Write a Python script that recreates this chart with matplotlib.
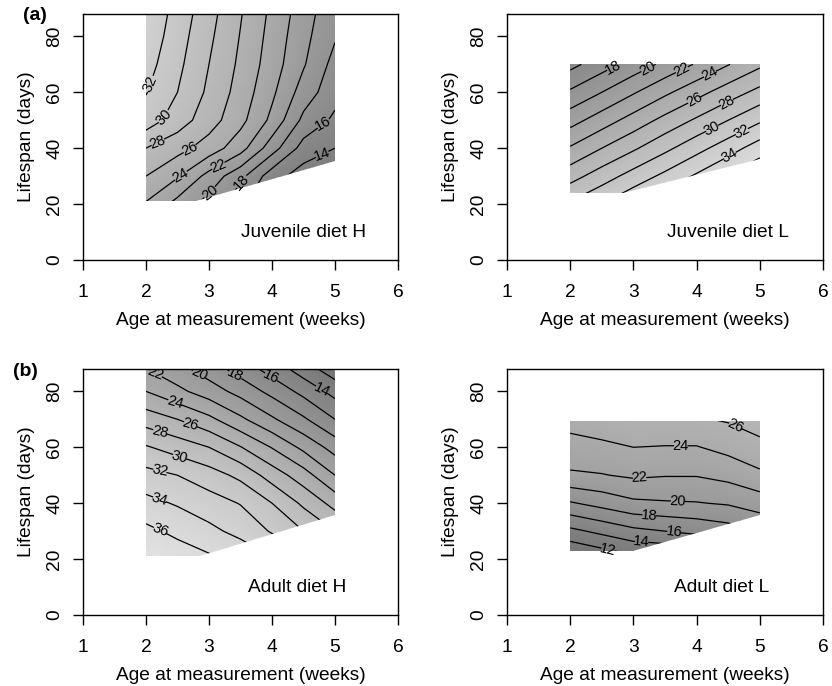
import numpy as np
import matplotlib
matplotlib.use("Agg")
import matplotlib.pyplot as plt
from matplotlib.patches import Polygon
from matplotlib.colors import LinearSegmentedColormap, Normalize

plt.rcParams['font.family'] = ['Liberation Sans', 'DejaVu Sans']

# grid: age (weeks) x lifespan (days)
ages = [2, 2.5, 3, 3.5, 4, 4.5, 5]
life_H = [20, 30, 40, 50, 60, 70, 80, 90]
life_L = [20, 30, 40, 50, 60, 70]

# juvenile diet H, one row per lifespan value
juv_H = [
    [23.8, 21.3, 19.2, 16.5, 13.5, 11.5, 10.0],
    [26.0, 24.2, 21.3, 18.6, 14.9, 13.0, 11.5],
    [28.0, 26.7, 25.1, 22.8, 18.9, 15.2, 14.0],
    [31.1, 29.0, 26.9, 24.6, 21.5, 17.5, 15.6],
    [32.1, 30.0, 27.6, 25.2, 22.4, 19.1, 16.7],
    [32.8, 30.5, 28.0, 25.6, 23.0, 20.2, 17.3],
    [33.4, 30.9, 28.4, 25.9, 23.3, 20.6, 18.2],
    [33.8, 31.3, 28.8, 26.2, 23.6, 21.0, 18.6],
]
# juvenile diet L
juv_L = [
    [30.3, 32.0, 33.8, 35.5, 37.3, 39.1, 41.0],
    [27.2, 29.0, 30.8, 32.5, 34.3, 36.1, 37.9],
    [24.2, 26.0, 27.7, 29.5, 31.3, 33.1, 35.0],
    [21.2, 23.0, 24.8, 26.6, 28.3, 30.0, 31.7],
    [18.3, 20.0, 21.8, 23.6, 25.3, 27.0, 28.6],
    [15.4, 17.1, 18.8, 20.5, 22.2, 23.9, 25.6],
]
# adult diet H
adu_H = [
    [37.9, 37.2, 36.4, 35.5, 34.2, 32.5, 30.5],
    [36.5, 35.5, 34.5, 33.4, 31.8, 30.0, 28.0],
    [34.6, 33.8, 32.9, 31.9, 30.0, 27.6, 25.3],
    [32.7, 32.0, 30.9, 29.5, 27.1, 24.9, 22.0],
    [30.2, 29.1, 28.0, 26.1, 23.9, 21.5, 19.2],
    [27.1, 26.0, 24.5, 22.4, 20.3, 18.3, 16.0],
    [24.0, 22.5, 21.0, 19.3, 17.4, 15.4, 13.3],
    [21.6, 20.2, 18.5, 16.6, 14.6, 12.4, 10.2],
]
# adult diet L
adu_L = [
    [9.4, 10.4, 11.4, 11.5, 12.2, 13.0, 13.5],
    [13.5, 14.5, 15.5, 16.0, 16.5, 17.1, 18.3],
    [17.8, 18.7, 19.6, 19.8, 19.9, 20.2, 20.9],
    [21.7, 21.9, 22.3, 22.1, 22.1, 22.6, 23.6],
    [23.3, 23.6, 24.0, 23.9, 23.9, 24.6, 25.4],
    [24.7, 25.1, 25.5, 25.7, 25.8, 26.2, 27.0],
]

# outline of the sampled region (age, lifespan)
reg_juv_H = [(2, 88), (2, 21), (2.8, 21), (5, 35.5), (5, 88)]
reg_juv_L = [(2, 70.2), (2, 24), (2.84, 24), (5, 36), (5, 70.2)]
reg_adu_H = [(2, 88), (2, 21), (2.86, 21), (5, 35.8), (5, 88)]
reg_adu_L = [(2, 69.5), (2, 23), (2.99, 23), (5, 35.8), (5, 69.5)]

# where the contour labels sit
lab_juv_H = [(2.09, 62.7), (2.30, 50.8), (2.2, 41.2), (2.70, 39.4), (2.54, 31),
             (3.12, 35.8), (2.99, 25), (3.49, 28.7), (4.79, 50.2), (4.79, 38.2)]
lab_juv_L = [(2.70, 68.1), (3.23, 68.1), (3.78, 67.5), (4.23, 65.7), (4.0, 55.6),
             (4.5, 55.6), (4.26, 46.6), (4.73, 45.4), (4.52, 37.6)]
lab_adu_H = [(2.14, 85.4), (2.83, 85.4), (3.41, 85.4), (3.96, 83.6), (4.78, 79.5),
             (2.46, 76.5), (2.70, 67.5), (2.22, 65.7), (2.54, 57.3), (2.22, 51.4),
             (2.22, 41.8), (2.22, 29.9)]
lab_adu_L = [(4.6, 67.1), (3.75, 60.5), (3.10, 48.4), (3.70, 40.6), (3.25, 35.8),
             (3.64, 29.5), (3.13, 26.3), (2.6, 23.5)]

levels = np.arange(10, 40, 2)
cmap = LinearSegmentedColormap.from_list('g', ['#6a6a6a', '#ebebeb'])
norm = Normalize(vmin=8, vmax=40)
FS = 13.8

W, H = 832, 686
fig = plt.figure(figsize=(W / 100, H / 100), dpi=100)


def panel(rect, z, lifes, region, labpos, title, tx):
    ax = fig.add_axes([rect[0] / W, 1 - rect[3] / H, (rect[1] - rect[0]) / W,
                       (rect[3] - rect[2]) / H])
    X, Y = np.meshgrid(ages, lifes)
    Z = np.array(z)
    clip = Polygon(region, closed=True, transform=ax.transData)
    mesh = ax.pcolormesh(X, Y, Z, shading='gouraud', cmap=cmap, norm=norm)
    mesh.set_clip_path(clip)
    cs = ax.contour(X, Y, Z, levels=levels, colors='black', linewidths=0.9)
    cs.set_clip_path(clip)
    ax.clabel(cs, fmt='%d', fontsize=10.5, inline=True, inline_spacing=3,
              manual=labpos)
    ax.text(tx, 10, title, ha='center', va='center', fontsize=FS)
    ax.set_xlim(1, 6)
    ax.set_ylim(0, 88)
    ax.set_xticks(range(1, 7))
    ax.set_yticks(range(0, 81, 20))
    ax.set_yticklabels([str(v) for v in range(0, 81, 20)], rotation=90,
                       va='center')
    ax.tick_params(axis='both', direction='out', length=7, width=1,
                   labelsize=FS, top=False, right=False)
    ax.tick_params(axis='x', pad=10)
    ax.tick_params(axis='y', pad=7.4)
    for s in ax.spines.values():
        s.set_linewidth(1.0)
    ax.set_xlabel('Age at measurement (weeks)', fontsize=FS, labelpad=8)
    ax.set_ylabel('Lifespan (days)', fontsize=FS, labelpad=7.7)
    return ax


panel((83, 398, 14, 260), juv_H, life_H, reg_juv_H, lab_juv_H, 'Juvenile diet H', 4.5)
panel((507, 823, 14, 260), juv_L, life_L, reg_juv_L, lab_juv_L, 'Juvenile diet L', 4.5)
panel((83, 398, 369, 615), adu_H, life_H, reg_adu_H, lab_adu_H, 'Adult diet H', 4.4)
panel((507, 823, 369, 615), adu_L, life_L, reg_adu_L, lab_adu_L, 'Adult diet L', 4.4)

fig.text(23 / W, 1 - 15 / H, '(a)', fontweight='bold', fontsize=14,
         ha='left', va='center')
fig.text(13 / W, 1 - 372 / H, '(b)', fontweight='bold', fontsize=14,
         ha='left', va='center')

fig.savefig('out.png', dpi=100)
